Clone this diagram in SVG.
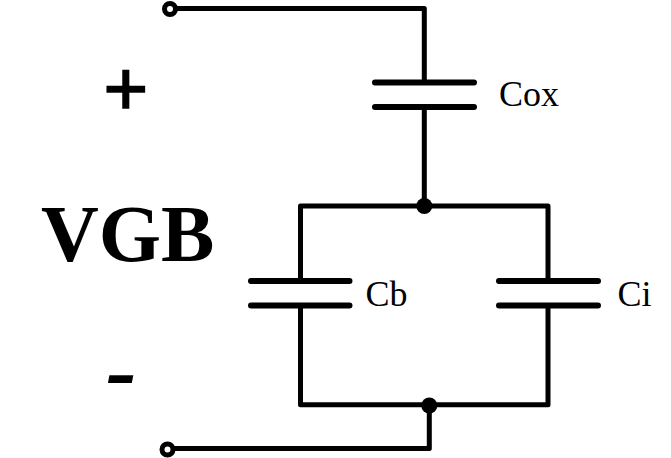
<svg xmlns="http://www.w3.org/2000/svg" width="671" height="458" viewBox="0 0 671 458">
<style>
.w{fill:none;stroke:#000;stroke-width:5;stroke-linejoin:round;stroke-linecap:round}
.p{fill:none;stroke:#000;stroke-width:6;stroke-linecap:round}
.t{fill:#fff;stroke:#000;stroke-width:5}
.l{font-family:"Liberation Serif","Times New Roman",serif;fill:#000}
.s{font-size:36px}
.b{font-size:80px;font-weight:bold}
</style>
<rect width="671" height="458" fill="#fff"/>
<g id="connectors">
<path class="w" d="M177 8.500H424.300V82.500M424.300 107V206"/>
<path class="w" d="M300.500 281V206H548V281M300.500 305.500V404.700H548V305.500"/>
<path class="w" d="M429.300 405V448.500H174"/>
</g>
<g id="terminal-top"><circle class="t" cx="170" cy="9" r="5.500"/></g>
<g id="terminal-bottom"><circle class="t" cx="167.500" cy="449.500" r="5.500"/></g>
<g id="junction-top"><circle cx="424.300" cy="206" r="8"/></g>
<g id="junction-bottom"><circle cx="429.300" cy="405.500" r="8"/></g>
<g id="cox"><path class="p" d="M375 82.500H474M375 107H474"/><text class="l s" x="499" y="105.500">Cox</text></g>
<g id="cb"><path class="p" d="M251 281H349.500M251 305.500H349.500"/><text class="l s" x="365.500" y="306">Cb</text></g>
<g id="ci"><path class="p" d="M499 281H598M499 305.500H598"/><text class="l s" x="617.500" y="306">Ci</text></g>
<g id="plus"><text class="l b" x="103" y="116" stroke="#000" stroke-width="1.500">+</text></g>
<g id="vgb"><text class="l b" x="41" y="261">VGB</text></g>
<g id="minus"><text class="l b" font-style="italic" style="font-size:92px" x="106" y="401">-</text></g>
</svg>
